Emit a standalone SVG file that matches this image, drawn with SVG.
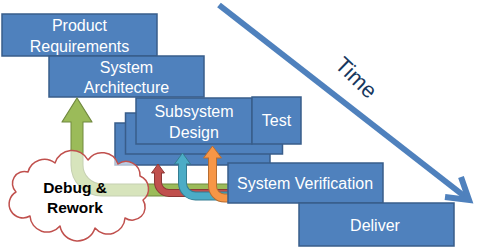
<svg xmlns="http://www.w3.org/2000/svg" width="500" height="248" viewBox="0 0 500 248">
  <style>
    .box { fill: #4F81BD; stroke: #385D8A; stroke-width: 1.5; }
    .lbl { font-family: "Liberation Sans", Arial, sans-serif; font-size: 16px; fill: #FFFFFF; text-anchor: middle; }
    .cloud-lbl { font-family: "Liberation Sans", Arial, sans-serif; font-size: 15.5px; font-weight: bold; fill: #000000; text-anchor: middle; }
    .time { font-family: "Liberation Sans", Arial, sans-serif; font-size: 22px; fill: #17375E; text-anchor: middle; }
  </style>
  <rect width="500" height="248" fill="#FFFFFF"/>

  <!-- cascade of phase boxes -->
  <g id="product-requirements">
    <rect class="box" x="2" y="14" width="155" height="42"/>
    <text class="lbl" x="79.5" y="31">Product</text>
    <text class="lbl" x="79.5" y="52">Requirements</text>
  </g>
  <g id="system-architecture">
    <rect class="box" x="49" y="56" width="155" height="41"/>
    <text class="lbl" x="126.5" y="73">System</text>
    <text class="lbl" x="126.5" y="93">Architecture</text>
  </g>
  <g id="subsystem-stack">
    <rect class="box" x="115" y="123" width="155" height="42"/>
    <rect class="box" x="125.5" y="113" width="157" height="41"/>
  </g>
  <g id="subsystem-design">
    <rect class="box" x="136" y="98" width="116" height="46"/>
    <text class="lbl" x="194" y="117">Subsystem</text>
    <text class="lbl" x="194" y="138">Design</text>
  </g>
  <g id="test">
    <rect class="box" x="252" y="97" width="49" height="47"/>
    <text class="lbl" x="276.5" y="126">Test</text>
  </g>

  <!-- rework loops -->
  <g id="connectors">
    <g id="rework-green">
      <path d="M77,121 V165 A25,25 0 0 0 102,190 H232" fill="none" stroke="#71893F" stroke-width="13"/>
      <polygon points="77,98 92,122 62,122" fill="#9BBB59" stroke="#71893F" stroke-width="1.2" stroke-linejoin="round"/>
      <path d="M77,120 V165 A25,25 0 0 0 102,190 H232" fill="none" stroke="#9BBB59" stroke-width="11"/>
    </g>
    <g id="rework-red">
      <path d="M158,172.5 V182 A11,11 0 0 0 169,193 H232" fill="none" stroke="#8C3836" stroke-width="8"/>
      <polygon points="158,164 164.5,173 151.5,173" fill="#C0504D" stroke="#8C3836" stroke-width="1" stroke-linejoin="round"/>
      <path d="M158,172 V182 A11,11 0 0 0 169,193 H232" fill="none" stroke="#C0504D" stroke-width="6"/>
    </g>
    <g id="rework-blue">
      <path d="M182.5,163.5 V183 A13,13 0 0 0 195.5,196 H232" fill="none" stroke="#357D91" stroke-width="9"/>
      <polygon points="182.5,153 190.5,164 174.5,164" fill="#4BACC6" stroke="#357D91" stroke-width="1" stroke-linejoin="round"/>
      <path d="M182.5,163 V183 A13,13 0 0 0 195.5,196 H232" fill="none" stroke="#4BACC6" stroke-width="7"/>
    </g>
    <g id="rework-orange">
      <path d="M212.5,157.5 V186 A12,12 0 0 0 224.5,198 H232" fill="none" stroke="#B66D31" stroke-width="9"/>
      <polygon points="212.5,146 221.5,158 203.5,158" fill="#F79646" stroke="#B66D31" stroke-width="1" stroke-linejoin="round"/>
      <path d="M212.5,157 V186 A12,12 0 0 0 224.5,198 H232" fill="none" stroke="#F79646" stroke-width="7"/>
    </g>
  </g>

  <g id="debug-rework">
    <path d="M16,192 A12,12 0 0 1 28,172 A17,17 0 0 1 55,163 A18,18 0 0 1 88,160 A17,17 0 0 1 118,164 A14,14 0 0 1 140,176 A14,14 0 0 1 143,200 A13,13 0 0 1 125,218 A17,17 0 0 1 95,228 A18,18 0 0 1 60,226 A17,17 0 0 1 30,216 A12,12 0 0 1 16,192 Z"
          fill="#FFFFFF" fill-opacity="0.6" stroke="#C0504D" stroke-width="1.5" stroke-linejoin="round"/>
    <text class="cloud-lbl" x="75" y="193">Debug &amp;</text>
    <text class="cloud-lbl" x="75" y="213">Rework</text>
  </g>

  <g id="system-verification">
    <rect class="box" x="228" y="163" width="155" height="40"/>
    <text class="lbl" x="305" y="189">System Verification</text>
  </g>
  <g id="deliver">
    <rect class="box" x="299" y="203" width="155" height="43"/>
    <text class="lbl" x="375" y="231">Deliver</text>
  </g>

  <!-- time axis -->
  <g id="time">
    <line x1="219" y1="5" x2="468" y2="199" stroke="#4F81BD" stroke-width="6"/>
    <polyline points="445,197 469,200 461,177" fill="none" stroke="#4F81BD" stroke-width="6" stroke-linejoin="miter" stroke-miterlimit="10"/>
    <text class="time" transform="translate(351,83) rotate(44)">Time</text>
  </g>
</svg>
